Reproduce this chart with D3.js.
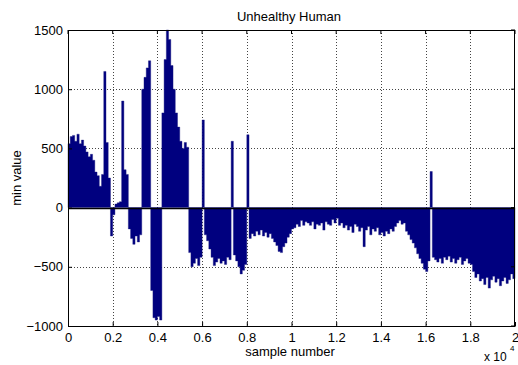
<!DOCTYPE html>
<html><head><meta charset="utf-8">
<script src="https://cdn.jsdelivr.net/npm/d3@7"></script>
<style>body{margin:0;background:#fff}svg{display:block}text{font-family:"Liberation Sans",Arial,sans-serif;fill:#000}</style>
</head><body><svg id="c" width="518" height="365"></svg>
<script>
const title = "Unhealthy Human";
const xLabel = "sample number";
const yLabel = "min value";
const step = 100; // samples per bar
const minValues = [
540,600,610,560,620,540,570,520,470,430,
450,400,300,270,180,280,1150,550,250,-240,
-60,30,40,50,900,320,280,-180,-260,-310,
-240,-290,-230,1000,1100,1180,1240,-700,-930,-950,
-920,-950,800,1250,1500,1420,1200,1000,800,680,
560,500,550,510,-380,-500,-470,-430,-490,-420,
740,-230,-280,-350,-420,-490,-460,-430,-470,-450,
-480,-420,-440,560,-400,-450,-500,-560,-530,-480,
615,-260,-220,-240,-200,-230,-190,-240,-210,-250,
-220,-260,-290,-320,-370,-380,-330,-300,-250,-220,
-180,-170,-140,-160,-110,-150,-120,-130,-150,-120,
-180,-140,-150,-130,-190,-120,-140,-150,-100,-130,
-90,-150,-130,-170,-150,-190,-160,-210,-140,-160,
-200,-170,-330,-190,-160,-230,-180,-200,-170,-230,
-210,-240,-200,-220,-180,-200,-160,-130,-110,-140,
-130,-200,-230,-270,-300,-340,-390,-430,-470,-520,
-540,-450,305,-420,-440,-460,-430,-470,-420,-440,
-410,-460,-430,-470,-440,-420,-480,-450,-430,-470,
-480,-540,-590,-560,-620,-600,-650,-590,-680,-610,
-580,-630,-600,-660,-620,-590,-640,-610,-560,-600
];
const xTicks = [0,2000,4000,6000,8000,10000,12000,14000,16000,18000,20000];
const xTickLabels = ["0","0.2","0.4","0.6","0.8","1","1.2","1.4","1.6","1.8","2"];
const yTicks = [-1000,-500,0,500,1000,1500];

const svg = d3.select("#c");
const m = {l:68, r:3, t:30, b:39};
const W = 518, H = 365;
const x = d3.scaleLinear().domain([0,20000]).range([m.l, W-m.r]);
const y = d3.scaleLinear().domain([-1000,1500]).range([H-m.b, m.t]);

// grid
const g = svg.append("g");
g.selectAll(".gx").data(xTicks.slice(1,-1)).join("line")
  .attr("x1",d=>Math.round(x(d))+0.5).attr("x2",d=>Math.round(x(d))+0.5)
  .attr("y1",y(1500)).attr("y2",y(-1000))
  .attr("stroke","#444").attr("stroke-dasharray","1,2");
g.selectAll(".gy").data(yTicks.slice(1,-1)).join("line")
  .attr("y1",d=>Math.round(y(d))+0.5).attr("y2",d=>Math.round(y(d))+0.5)
  .attr("x1",x(0)).attr("x2",x(20000))
  .attr("stroke","#444").attr("stroke-dasharray","1,2");

// bars drawn as a stepped area (adjacent bars, no seams)
const pts = minValues.map((d,i)=>({s:i*step,v:d}));
pts.push({s:minValues.length*step, v:minValues[minValues.length-1]});
const area = d3.area().curve(d3.curveStepAfter)
  .x(d=>x(d.s)).y0(y(0)).y1(d=>y(d.v));
svg.append("path").datum(pts).attr("d",area)
  .attr("fill","#00007f").attr("stroke","#1a1a80").attr("stroke-width",0.4);

// zero line
svg.append("line").attr("x1",x(0)).attr("x2",x(20000))
  .attr("y1",Math.round(y(0))+0.5).attr("y2",Math.round(y(0))+0.5)
  .attr("stroke","#000").attr("stroke-width",1.5);

// axes
const xa = svg.append("g").attr("transform",`translate(0,${y(-1000)})`)
  .call(d3.axisBottom(x).tickValues(xTicks).tickFormat((d,i)=>xTickLabels[i]).tickSizeInner(-4).tickSizeOuter(0).tickPadding(7));
const ya = svg.append("g").attr("transform",`translate(${x(0)},0)`)
  .call(d3.axisLeft(y).tickValues(yTicks).tickFormat(d3.format("d")).tickSizeInner(-4).tickSizeOuter(0).tickPadding(5));
[xa,ya].forEach(a=>{a.selectAll("text").style("font-size","13px").style("font-family","'Liberation Sans',Arial,sans-serif");
  a.select(".domain").attr("stroke","#000");a.selectAll(".tick line").attr("stroke","#000");});
// top & right ticks / box
svg.append("line").attr("x1",x(0)).attr("x2",x(20000)).attr("y1",y(1500)+0.5).attr("y2",y(1500)+0.5).attr("stroke","#000");
svg.append("line").attr("x1",x(20000)-0.5).attr("x2",x(20000)-0.5).attr("y1",y(1500)).attr("y2",y(-1000)).attr("stroke","#000");
svg.append("g").selectAll("line").data(xTicks).join("line")
  .attr("x1",d=>x(d)).attr("x2",d=>x(d)).attr("y1",y(1500)).attr("y2",y(1500)+4).attr("stroke","#000");
svg.append("g").selectAll("line").data(yTicks).join("line")
  .attr("y1",d=>y(d)).attr("y2",d=>y(d)).attr("x1",x(20000)).attr("x2",x(20000)-4).attr("stroke","#000");

// labels
svg.append("text").attr("x",289).attr("y",21).attr("text-anchor","middle").style("font-size","13px").text(title);
svg.append("text").attr("x",290).attr("y",356).attr("text-anchor","middle").style("font-size","13px").text(xLabel);
svg.append("text").attr("transform","translate(21,178) rotate(-90)").attr("text-anchor","middle").style("font-size","13px").text(yLabel);
svg.append("text").attr("x",484).attr("y",361).style("font-size","12px").text("x 10");
svg.append("text").attr("x",510).attr("y",351).style("font-size","8px").text("4");
</script></body></html>
